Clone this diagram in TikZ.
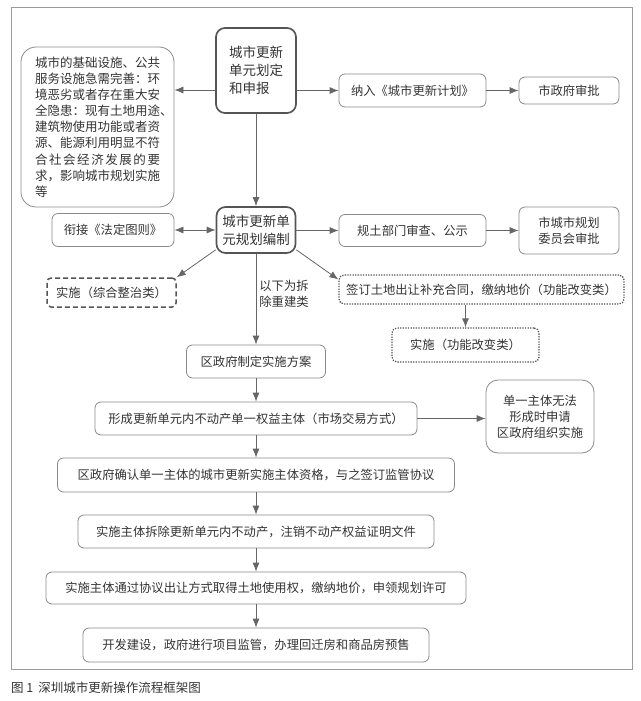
\documentclass[tikz,border=0pt]{standalone}
\usepackage{fontspec}
\newfontfamily\cjk{Noto Sans CJK SC}
\usetikzlibrary{arrows.meta}
\definecolor{txt}{HTML}{333333}
\definecolor{bd}{HTML}{8A8A8A}
\definecolor{thk}{HTML}{555555}
\definecolor{ar}{HTML}{666666}
\definecolor{frm}{HTML}{9A9A9A}
\begin{document}
\begin{tikzpicture}[x=1pt,y=-1pt,
  every node/.style={font=\cjk\fontsize{12.3}{16}\selectfont, text=txt, inner sep=0pt},
  box/.style={draw=bd, line width=0.8pt, rounded corners=6pt, align=center},
  thickbox/.style={draw=thk, line width=1.7pt, rounded corners=9pt, align=left, font=\cjk\fontsize{13.5}{18}\selectfont},
  dashbox/.style={draw=thk, line width=1.5pt, dash pattern=on 5pt off 3pt, rounded corners=4pt, align=center},
  dotbox/.style={draw=thk, line width=1.3pt, dash pattern=on 1.3pt off 1.3pt, rounded corners=5pt, align=center},
  arr/.style={draw=ar, line width=0.8pt, -{Latex[length=9pt,width=7pt]}},
  darr/.style={draw=ar, line width=0.8pt, {Latex[length=9pt,width=7pt]}-{Latex[length=9pt,width=7pt]}}
]
\useasboundingbox (0,0) rectangle (640,701);
\draw[frm, line width=0.9pt] (11,7) rectangle (632,669);

% top row
\node[thickbox, minimum width=80pt, minimum height=85pt] (n1) at (256,70.5) {城市更新\\单元划定\\和申报};
\node[box, rounded corners=15pt, minimum width=153pt, minimum height=160pt, align=left,
      font=\cjk\fontsize{12.5}{16.1}\selectfont] (L) at (97.5,127)
  {城市的基础设施、公共\\服务设施急需完善：环\\境恶劣或者存在重大安\\\makebox[10em][l]{全隐患：现有土地用途、}\\建筑物使用功能或者资\\源、能源利用明显不符\\\makebox[10em]{合\hfill 社\hfill 会\hfill 经\hfill 济\hfill 发\hfill 展\hfill 的\hfill 要}\\求，影响城市规划实施\\等};
\node[box, minimum width=147pt, minimum height=33pt] (P1) at (412.5,90.5) {纳入《城市更新计划》};
\node[box, minimum width=100pt, minimum height=27pt] (P2) at (569,90.5) {市政府审批};

% second row
\node[thickbox, minimum width=79pt, minimum height=46pt] (n2) at (256,230) {城市更新单\\元规划编制};
\node[box, minimum width=122pt, minimum height=33pt] (Q) at (113,230) {衔接《法定图则》};
\node[box, minimum width=147pt, minimum height=32pt] (R1) at (412.5,230.5) {规土部门审查、公示};
\node[box, minimum width=100pt, minimum height=47pt] (R2) at (569,230.5) {市城市规划\\委员会审批};

% branches
\node[dashbox, minimum width=129pt, minimum height=29pt] (D1) at (111.5,292.5) {实施（综合整治类）};
\node[dotbox, minimum width=285pt, minimum height=29pt] (E1) at (481.5,289.5) {签订土地出让补充合同，缴纳地价（功能改变类）};
\node[dotbox, minimum width=147pt, minimum height=34pt] (E2) at (465.5,345) {实施（功能改变类）};
\node[align=left, font=\cjk\fontsize{12.3}{15.5}\selectfont] (lbl) at (284,294) {以下为拆\\除重建类};

% main column
\node[box, minimum width=139pt, minimum height=33pt] (S1) at (256,361.5) {区政府制定实施方案};
\node[box, minimum width=322pt, minimum height=33pt] (S2) at (256,418.5) {形成更新单元内不动产单一权益主体（市场交易方式）};
\node[box, rounded corners=12pt, minimum width=108pt, minimum height=73pt, font=\cjk\fontsize{12.3}{16}\selectfont] (Rt) at (540,416.5) {单一主体无法\\形成时申请\\区政府组织实施};
\node[box, minimum width=397pt, minimum height=34pt] (S3) at (256,475) {区政府确认单一主体的城市更新实施主体资格，与之签订监管协议};
\node[box, minimum width=356pt, minimum height=33pt] (S4) at (256,531.5) {实施主体拆除更新单元内不动产，注销不动产权益证明文件};
\node[box, minimum width=420pt, minimum height=32pt] (S5) at (256,588) {实施主体通过协议出让方式取得土地使用权，缴纳地价，申领规划许可};
\node[box, minimum width=346pt, minimum height=34pt] (S6) at (256,645) {开发建设，政府进行项目监管，办理回迁房和商品房预售};

\node[anchor=west, font=\cjk\fontsize{12.5}{15}\selectfont] (cap) at (11,688) {图 1\, 深圳城市更新操作流程框架图};

% connectors
\coordinate (a1) at ([yshift=-19.5pt]n1.west);
\draw[arr] (a1) -- (a1 -| L.east);
\draw[arr] (P1.west -| n1.east) -- (P1.west);
\draw[arr] (P1) -- (P2);
\draw[arr] (n1) -- (n2);
\draw[darr] (Q.east) -- (Q.east -| n2.west);
\draw[arr] (R1.west -| n2.east) -- (R1.west);
\draw[arr] (R1) -- (R2);
\draw[arr] ([yshift=4pt]n2.south west) -- (D1.north east);
\draw[arr] ([yshift=4pt]n2.south east) -- ([yshift=10pt]E1.west);
\draw[arr] (E2.north |- E1.south) -- (E2.north);
\draw[arr] (n2) -- (S1);
\draw[arr] (S1) -- (S2);
\draw[arr] (S2.east) -- (S2.east -| Rt.west);
\draw[arr] (S2) -- (S3);
\draw[arr] (S3) -- (S4);
\draw[arr] (S4) -- (S5);
\draw[arr] (S5) -- (S6);
\end{tikzpicture}
\end{document}
